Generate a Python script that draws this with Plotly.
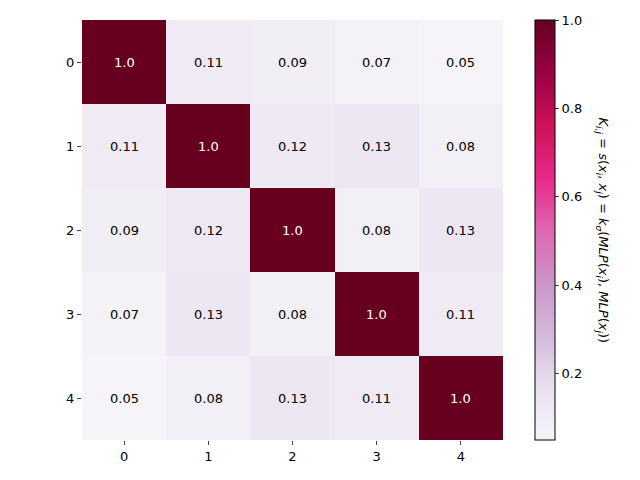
import plotly.graph_objects as go

labels = ["0", "1", "2", "3", "4"]
K = [
    [1.0, 0.11, 0.09, 0.07, 0.05],
    [0.11, 1.0, 0.12, 0.13, 0.08],
    [0.09, 0.12, 1.0, 0.08, 0.13],
    [0.07, 0.13, 0.08, 1.0, 0.11],
    [0.05, 0.08, 0.13, 0.11, 1.0],
]
cbar_ticks = [0.2, 0.4, 0.6, 0.8, 1.0]

# plot area in figure pixels (page body adds an 8px offset)
OFF = 8
L, R, T, B = 82 - OFF, 503 - OFF, 20 - OFF, 440 - OFF

fig = go.Figure()
fig.add_trace(
    go.Heatmap(
        z=K,
        x=labels,
        y=labels,
        colorscale="PuRd",
        zmin=0.05,
        zmax=1.0,
        showscale=True,
        hoverinfo="skip",
        colorbar=dict(
            x=(535 - OFF - L) / (R - L),
            xanchor="left",
            xpad=0,
            y=0.5,
            yanchor="middle",
            ypad=0,
            thickness=20,
            lenmode="fraction",
            len=1.0,
            outlinewidth=1,
            outlinecolor="black",
            ticks="outside",
            ticklen=4,
            tickvals=cbar_ticks,
            ticktext=[f"{t:.1f}" for t in cbar_ticks],
            tickfont=dict(size=13, color="black"),
        ),
    )
)

# cell annotations: white on dark cells, black elsewhere
for i, row in enumerate(K):
    for j, v in enumerate(row):
        fig.add_annotation(
            x=labels[j], y=labels[i], text=str(v), showarrow=False,
            font=dict(size=13, color="white" if v > 0.5 else "black"),
        )

label = ("<i>K</i><sub><i>i,j</i></sub> = <i>s</i>(<i>x</i><sub><i>i</i></sub>, "
         "<i>x</i><sub><i>j</i></sub>) = <i>k</i><sub><i>σ</i></sub>(<i>MLP</i>(<i>x</i><sub><i>i</i></sub>), "
         "<i>MLP</i>(<i>x</i><sub><i>j</i></sub>))")
fig.add_annotation(
    xref="paper", yref="paper", x=(613 - OFF - L) / (R - L), y=0.5,
    text=label, textangle=90, showarrow=False,
    font=dict(size=13, color="black"),
)

fig.update_layout(
    width=640,
    height=480,
    margin=dict(l=L, r=640 - R, t=T, b=480 - B, autoexpand=False),
    paper_bgcolor="white",
    plot_bgcolor="white",
    font=dict(family="DejaVu Sans", color="black"),
    xaxis=dict(showgrid=False, zeroline=False, ticks="outside", ticklen=4,
               tickfont=dict(size=13)),
    yaxis=dict(showgrid=False, zeroline=False, ticks="outside", ticklen=4,
               autorange="reversed", tickfont=dict(size=13)),
)

fig.write_html("out.html")
